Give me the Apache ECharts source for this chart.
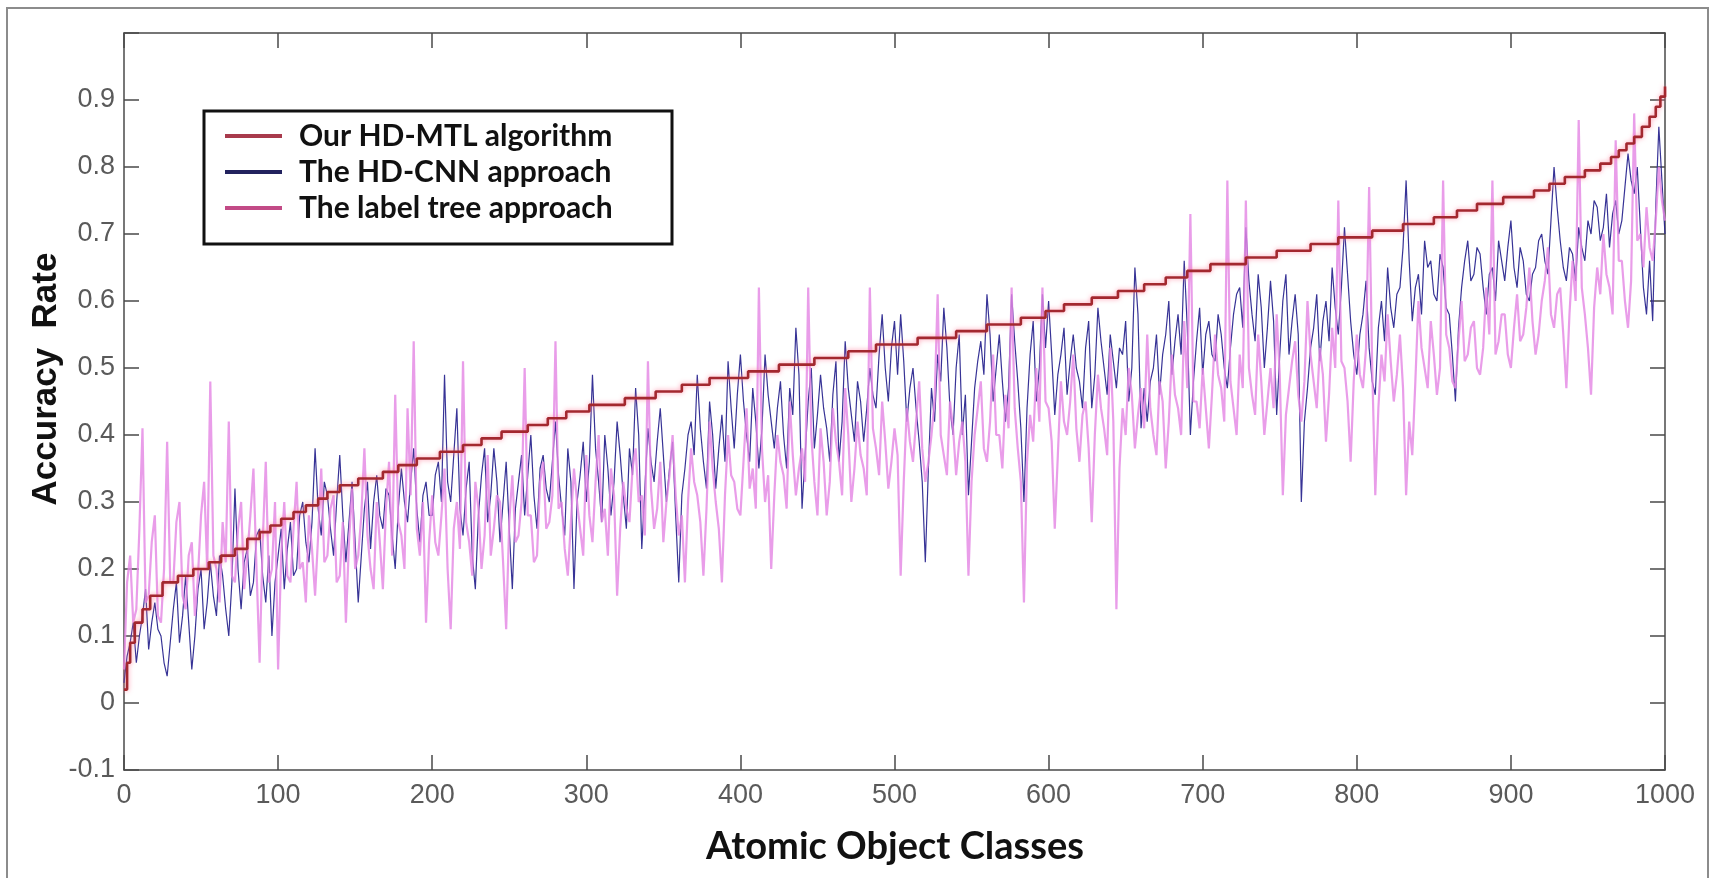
<!DOCTYPE html>
<html>
<head>
<meta charset="utf-8">
<script src="https://cdn.jsdelivr.net/npm/echarts@6/dist/echarts.min.js"></script>
<style>
html,body{margin:0;padding:0;background:#fff;}
#chart{width:1719px;height:878px;}
</style>
</head>
<body>
<div id="chart"></div>
<script>
// ---- data ----
const xTicks = [0,100,200,300,400,500,600,700,800,900,1000];
const yTicks = [-0.1,0,0.1,0.2,0.3,0.4,0.5,0.6,0.7,0.8,0.9];
const seriesNames = ['Our HD-MTL algorithm','The HD-CNN approach','The label tree approach'];

// HD-MTL: staircase (class where a level starts, accuracy)
const mtlClass = [0,2,4,7,12,17,25,35,45,55,63,72,80,88,95,102,110,118,126,132,140,152,168,178,190,205,220,232,245,262,275,287,302,325,345,362,380,405,425,448,470,488,515,540,560,582,598,610,628,645,662,676,690,705,728,748,770,788,810,830,850,865,878,895,915,925,935,948,958,965,970,975,980,985,990,994,997,1000];
const mtlAcc = [0.02,0.06,0.09,0.12,0.14,0.16,0.18,0.19,0.20,0.21,0.22,0.23,0.245,0.255,0.265,0.275,0.285,0.295,0.305,0.315,0.325,0.335,0.345,0.355,0.365,0.375,0.385,0.395,0.405,0.415,0.425,0.435,0.445,0.455,0.465,0.475,0.485,0.495,0.505,0.515,0.525,0.535,0.545,0.555,0.565,0.575,0.585,0.595,0.605,0.615,0.625,0.635,0.645,0.655,0.665,0.675,0.685,0.695,0.705,0.715,0.725,0.735,0.745,0.755,0.765,0.775,0.785,0.795,0.805,0.815,0.825,0.835,0.845,0.86,0.875,0.89,0.905,0.92];

// sampled every 2 classes: 0,2,4,...,1000 (one row = 100 classes)
const sampleStep = 2;
const cnnAcc = [
0.03,0.07,0.09,0.12,0.06,0.10,0.13,0.17,0.08,0.12,0.15,0.11,0.10,0.06,0.04,0.09,0.14,0.18,0.09,0.13,0.19,0.12,0.05,0.10,0.17,0.20,0.11,0.15,0.21,0.16,0.13,0.22,0.19,0.14,0.10,0.18,0.32,0.20,0.14,0.21,0.23,0.16,0.18,0.25,0.26,0.19,0.15,0.22,0.10,0.18,
0.22,0.26,0.17,0.23,0.27,0.19,0.20,0.28,0.30,0.24,0.21,0.27,0.38,0.29,0.25,0.33,0.31,0.26,0.22,0.30,0.37,0.28,0.21,0.27,0.33,0.24,0.15,0.22,0.29,0.33,0.23,0.30,0.34,0.28,0.26,0.32,0.31,0.25,0.20,0.29,0.35,0.30,0.27,0.33,0.38,0.29,0.24,0.31,0.33,0.28,
0.28,0.34,0.36,0.30,0.49,0.33,0.30,0.37,0.44,0.29,0.25,0.32,0.36,0.22,0.17,0.28,0.34,0.38,0.27,0.31,0.38,0.33,0.24,0.30,0.36,0.26,0.17,0.29,0.33,0.37,0.28,0.34,0.40,0.31,0.26,0.35,0.37,0.32,0.30,0.36,0.42,0.34,0.29,0.25,0.38,0.33,0.17,0.30,0.34,0.39,
0.30,0.36,0.49,0.38,0.33,0.27,0.40,0.35,0.28,0.33,0.42,0.37,0.31,0.26,0.38,0.34,0.47,0.40,0.23,0.32,0.41,0.36,0.33,0.39,0.44,0.37,0.30,0.35,0.39,0.28,0.18,0.31,0.35,0.40,0.42,0.37,0.49,0.41,0.36,0.32,0.45,0.40,0.32,0.38,0.43,0.36,0.51,0.44,0.38,0.46,
0.52,0.45,0.40,0.36,0.47,0.42,0.35,0.41,0.52,0.46,0.42,0.38,0.44,0.48,0.40,0.35,0.47,0.43,0.56,0.49,0.29,0.37,0.45,0.50,0.38,0.43,0.49,0.44,0.41,0.36,0.46,0.51,0.36,0.42,0.54,0.47,0.43,0.39,0.48,0.45,0.39,0.44,0.50,0.46,0.44,0.52,0.58,0.50,0.45,0.53,
0.57,0.49,0.58,0.51,0.42,0.47,0.50,0.44,0.39,0.33,0.21,0.35,0.47,0.42,0.52,0.48,0.59,0.53,0.44,0.40,0.50,0.55,0.40,0.46,0.31,0.39,0.47,0.51,0.54,0.49,0.61,0.55,0.45,0.50,0.55,0.48,0.42,0.47,0.61,0.54,0.48,0.41,0.30,0.44,0.52,0.57,0.45,0.50,0.61,0.53,
0.60,0.52,0.43,0.49,0.52,0.56,0.46,0.51,0.55,0.50,0.48,0.44,0.53,0.57,0.44,0.49,0.59,0.54,0.50,0.46,0.55,0.51,0.47,0.53,0.52,0.57,0.45,0.50,0.65,0.58,0.41,0.47,0.42,0.48,0.50,0.55,0.46,0.52,0.55,0.60,0.49,0.54,0.58,0.52,0.66,0.56,0.40,0.48,0.54,0.59,
0.49,0.55,0.57,0.52,0.51,0.58,0.55,0.50,0.47,0.53,0.58,0.61,0.62,0.56,0.71,0.63,0.58,0.54,0.64,0.59,0.50,0.56,0.63,0.57,0.43,0.52,0.60,0.64,0.52,0.57,0.61,0.55,0.30,0.42,0.47,0.53,0.56,0.61,0.51,0.57,0.60,0.54,0.65,0.59,0.55,0.62,0.71,0.64,0.57,0.52,
0.49,0.55,0.58,0.63,0.53,0.48,0.46,0.56,0.60,0.54,0.65,0.59,0.56,0.61,0.62,0.68,0.78,0.66,0.57,0.62,0.64,0.58,0.69,0.65,0.66,0.61,0.60,0.67,0.65,0.59,0.58,0.52,0.45,0.56,0.62,0.66,0.69,0.63,0.64,0.68,0.67,0.62,0.58,0.64,0.65,0.60,0.69,0.66,0.63,0.68,
0.72,0.65,0.62,0.68,0.66,0.61,0.60,0.64,0.65,0.69,0.70,0.66,0.64,0.72,0.80,0.74,0.69,0.65,0.63,0.68,0.67,0.63,0.71,0.68,0.66,0.72,0.70,0.75,0.74,0.69,0.71,0.76,0.68,0.73,0.75,0.70,0.72,0.77,0.82,0.78,0.76,0.80,0.71,0.62,0.58,0.66,0.57,0.74,0.86,0.78,
0.70];
const treeAcc = [
0.05,0.18,0.22,0.12,0.14,0.26,0.41,0.15,0.16,0.24,0.28,0.13,0.12,0.20,0.39,0.18,0.18,0.27,0.30,0.16,0.14,0.22,0.24,0.13,0.19,0.28,0.33,0.20,0.48,0.22,0.20,0.15,0.27,0.21,0.42,0.19,0.18,0.26,0.30,0.17,0.22,0.28,0.35,0.20,0.06,0.24,0.36,0.18,0.20,0.30,
0.05,0.22,0.30,0.19,0.18,0.26,0.33,0.20,0.21,0.15,0.28,0.23,0.16,0.25,0.35,0.21,0.22,0.29,0.31,0.18,0.19,0.27,0.12,0.24,0.32,0.20,0.22,0.28,0.38,0.25,0.20,0.17,0.30,0.24,0.17,0.29,0.36,0.22,0.46,0.27,0.25,0.20,0.44,0.31,0.54,0.26,0.22,0.30,0.12,0.24,
0.31,0.24,0.22,0.28,0.35,0.20,0.11,0.26,0.30,0.23,0.51,0.27,0.24,0.19,0.33,0.29,0.20,0.25,0.37,0.22,0.26,0.31,0.30,0.21,0.11,0.27,0.34,0.24,0.25,0.30,0.50,0.28,0.28,0.21,0.22,0.33,0.36,0.26,0.27,0.31,0.54,0.29,0.30,0.23,0.19,0.27,0.35,0.30,0.26,0.22,
0.37,0.28,0.24,0.33,0.40,0.27,0.29,0.22,0.35,0.31,0.16,0.26,0.33,0.29,0.27,0.35,0.38,0.30,0.31,0.25,0.51,0.32,0.26,0.29,0.36,0.24,0.30,0.34,0.40,0.31,0.25,0.28,0.18,0.30,0.38,0.33,0.31,0.27,0.19,0.29,0.42,0.35,0.30,0.26,0.18,0.31,0.40,0.34,0.33,0.29,
0.28,0.36,0.44,0.32,0.35,0.29,0.62,0.38,0.30,0.34,0.20,0.31,0.40,0.36,0.34,0.29,0.45,0.37,0.31,0.35,0.38,0.33,0.62,0.40,0.33,0.28,0.41,0.36,0.28,0.33,0.44,0.39,0.36,0.31,0.47,0.40,0.30,0.35,0.42,0.37,0.35,0.31,0.62,0.41,0.38,0.34,0.45,0.39,0.32,0.36,
0.41,0.37,0.19,0.33,0.44,0.39,0.36,0.42,0.48,0.38,0.33,0.36,0.40,0.45,0.61,0.40,0.37,0.34,0.45,0.41,0.34,0.39,0.42,0.36,0.19,0.33,0.40,0.44,0.48,0.38,0.36,0.42,0.52,0.40,0.40,0.35,0.46,0.41,0.62,0.44,0.38,0.33,0.15,0.36,0.43,0.39,0.50,0.42,0.62,0.45,
0.44,0.39,0.26,0.37,0.48,0.42,0.40,0.45,0.52,0.41,0.36,0.43,0.45,0.38,0.27,0.40,0.49,0.44,0.41,0.37,0.53,0.42,0.14,0.35,0.44,0.40,0.50,0.46,0.38,0.43,0.47,0.41,0.55,0.44,0.40,0.37,0.48,0.45,0.35,0.42,0.52,0.46,0.44,0.40,0.57,0.47,0.73,0.45,0.45,0.41,
0.50,0.44,0.38,0.46,0.55,0.49,0.47,0.42,0.78,0.48,0.44,0.40,0.52,0.47,0.75,0.50,0.46,0.43,0.55,0.48,0.40,0.45,0.50,0.44,0.58,0.49,0.31,0.43,0.47,0.51,0.54,0.46,0.42,0.48,0.60,0.52,0.48,0.44,0.53,0.49,0.39,0.46,0.56,0.50,0.75,0.51,0.50,0.45,0.36,0.48,
0.55,0.49,0.47,0.53,0.77,0.50,0.31,0.44,0.52,0.48,0.58,0.51,0.45,0.49,0.55,0.47,0.31,0.42,0.37,0.48,0.60,0.53,0.50,0.47,0.57,0.52,0.46,0.50,0.78,0.55,0.53,0.48,0.47,0.54,0.60,0.51,0.52,0.56,0.57,0.50,0.49,0.53,0.62,0.55,0.78,0.52,0.54,0.58,0.58,0.52,
0.50,0.56,0.61,0.54,0.55,0.59,0.65,0.57,0.52,0.55,0.60,0.63,0.68,0.58,0.56,0.61,0.62,0.55,0.47,0.58,0.66,0.60,0.87,0.62,0.58,0.53,0.46,0.59,0.65,0.61,0.70,0.64,0.62,0.58,0.84,0.66,0.66,0.60,0.56,0.63,0.88,0.69,0.70,0.65,0.74,0.68,0.66,0.72,0.80,0.75,
0.72];

// ---- build ----
const mtlData = mtlClass.map((c,i)=>[c, mtlAcc[i]]);
const cnnData = cnnAcc.map((v,i)=>[i*sampleStep, v]);
const treeData = treeAcc.map((v,i)=>[i*sampleStep, v]);

const chart = echarts.init(document.getElementById('chart'), null, {renderer:'canvas'});
const axisCol = '#4a4a4a';
const labelFont = {fontFamily:'"Liberation Sans", Arial, sans-serif', fontSize:27, color:'#5a5a5a'};
const fmtY = v => { const r = Math.round(v*10)/10; return yTicks.includes(r) ? String(r) : ''; };
const fmtX = v => String(Math.round(v));

chart.setOption({
  animation:false,
  backgroundColor:'#ffffff',
  grid:{left:124, right:54, top:33, bottom:108, containLabel:false},
  xAxis:[
    {type:'value', min:xTicks[0], max:xTicks[xTicks.length-1], interval:100, position:'bottom',
     axisLine:{show:true, onZero:false, lineStyle:{color:axisCol, width:1.5}},
     axisTick:{show:true, inside:true, length:15, lineStyle:{color:axisCol, width:1.5}},
     axisLabel:Object.assign({margin:12, formatter:fmtX}, labelFont),
     splitLine:{show:false}},
    {type:'value', min:xTicks[0], max:xTicks[xTicks.length-1], interval:100, position:'top',
     axisLine:{show:true, onZero:false, lineStyle:{color:axisCol, width:1.5}},
     axisTick:{show:true, inside:true, length:15, lineStyle:{color:axisCol, width:1.5}},
     axisLabel:{show:false}, splitLine:{show:false}}
  ],
  yAxis:[
    {type:'value', min:-0.1, max:1.0, interval:0.1, position:'left',
     axisLine:{show:true, onZero:false, lineStyle:{color:axisCol, width:1.5}},
     axisTick:{show:true, inside:true, length:15, lineStyle:{color:axisCol, width:1.5}},
     axisLabel:Object.assign({margin:9, formatter:fmtY}, labelFont),
     splitLine:{show:false}},
    {type:'value', min:-0.1, max:1.0, interval:0.1, position:'right',
     axisLine:{show:true, onZero:false, lineStyle:{color:axisCol, width:1.5}},
     axisTick:{show:true, inside:true, length:15, lineStyle:{color:axisCol, width:1.5}},
     axisLabel:{show:false}, splitLine:{show:false}}
  ],
  legend:{
    orient:'vertical', left:220, top:114, padding:5,
    itemWidth:57, itemHeight:4, itemGap:2, icon:'rect',
    textStyle:{fontFamily:'Lato, "Open Sans", sans-serif', fontWeight:'bold', fontSize:30, color:'#111', lineHeight:34, padding:[0,0,0,12]},
    data:[
      {name:seriesNames[0], itemStyle:{color:'#a83a4c'}},
      {name:seriesNames[1], itemStyle:{color:'#22225e'}},
      {name:seriesNames[2], itemStyle:{color:'#c24a86'}}
    ]
  },
  graphic:[
    {type:'rect', z:-10, silent:true, shape:{x:7, y:8, width:1701, height:900},
     style:{fill:'none', stroke:'#8c8c8c', lineWidth:2}},
    {type:'rect', z:-5, silent:true, shape:{x:204, y:111, width:468, height:133},
     style:{fill:'#ffffff', stroke:'#111', lineWidth:3}},
    {type:'text', silent:true, x:46, y:379, rotation:Math.PI/2,
     style:{text:'Accuracy  Rate', fontFamily:'"Liberation Sans", Arial, sans-serif', fontWeight:'bold', fontSize:35, fill:'#111', textAlign:'center', textVerticalAlign:'middle'}},
    {type:'text', silent:true, x:895, y:847,
     style:{text:'Atomic Object Classes', fontFamily:'Lato, "Open Sans", sans-serif', fontWeight:'bold', fontSize:38, fill:'#111', textAlign:'center', textVerticalAlign:'middle'}}
  ],
  series:[
    {name:seriesNames[1], type:'line', data:cnnData, showSymbol:false, z:2,
     lineStyle:{color:'#2c2890', width:1.2, opacity:0.95}, itemStyle:{color:'#2c2890'}},
    {name:seriesNames[2], type:'line', data:treeData, showSymbol:false, z:3,
     lineStyle:{color:'#e488e4', width:2.2, opacity:0.82}, itemStyle:{color:'#e488e4'}},
    {name:seriesNames[0], type:'line', data:mtlData, showSymbol:false, step:'end', z:4,
     lineStyle:{color:'#a3282f', width:2.6, shadowColor:'rgba(255,120,150,0.8)', shadowBlur:5}, itemStyle:{color:'#a3282f'}}
  ]
});
</script>
</body>
</html>
